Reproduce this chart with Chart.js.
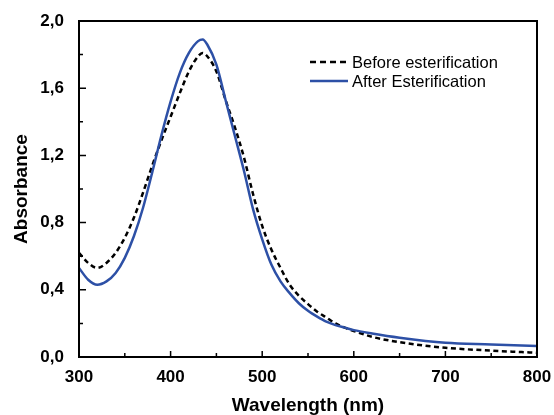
<!DOCTYPE html>
<html>
<head>
<meta charset="utf-8">
<script src="https://cdn.jsdelivr.net/npm/chart.js@4/dist/chart.umd.min.js"></script>
<style>
  body { margin: 0; background: #fff; }
</style>
</head>
<body>
<canvas id="uvChart" width="554" height="415"></canvas>
<script>
// wavelengths (nm)
const wavelengths = [300, 310, 320, 330, 340, 350, 360, 370, 380, 390, 400, 410, 420, 430, 435, 440, 450, 460, 470, 480, 490, 500, 510, 520, 530, 540, 550, 560, 570, 580, 590, 600, 620, 650, 700, 750, 800];

const beforeEster = [0.62, 0.56, 0.53, 0.56, 0.62, 0.71, 0.83, 0.98, 1.14, 1.29, 1.43, 1.57, 1.70, 1.79, 1.81, 1.79, 1.70, 1.53, 1.37, 1.19, 0.97, 0.78, 0.64, 0.53, 0.43, 0.365, 0.315, 0.27, 0.235, 0.20, 0.175, 0.155, 0.12, 0.088, 0.055, 0.038, 0.025];

const afterEster = [0.53, 0.46, 0.43, 0.45, 0.50, 0.59, 0.72, 0.89, 1.10, 1.32, 1.52, 1.69, 1.81, 1.88, 1.89, 1.86, 1.74, 1.53, 1.32, 1.11, 0.88, 0.70, 0.55, 0.45, 0.38, 0.32, 0.275, 0.24, 0.21, 0.19, 0.175, 0.16, 0.14, 0.115, 0.085, 0.075, 0.065];

const xTicks = [300, 400, 500, 600, 700, 800];
const yTicks = [0, 0.4, 0.8, 1.2, 1.6, 2.0];
const legendLabels = ['Before esterification', 'After Esterification'];

const blue = '#2d50a6';
const fontFamily = '"Liberation Sans", Arial, Helvetica, sans-serif';

function toPoints(ys) {
    return wavelengths.map((w, i) => ({ x: w, y: ys[i] }));
}

// frame, inward ticks and the legend inside the plot
const framePlugin = {
    id: 'frame',
    afterDatasetsDraw(chart) {
        const ctx = chart.ctx;
        const area = chart.chartArea;
        const xs = chart.scales.x;
        const ys = chart.scales.y;
        ctx.save();
        ctx.strokeStyle = '#000';
        ctx.lineWidth = 2;
        ctx.strokeRect(area.left, area.top, area.right - area.left, area.bottom - area.top);

        ctx.lineWidth = 1.5;
        ctx.beginPath();
        for (let v = 300; v <= 800; v += 50) {
            const px = xs.getPixelForValue(v);
            const len = (v % 100 === 0) ? 6 : 4;
            ctx.moveTo(px, area.bottom);
            ctx.lineTo(px, area.bottom - len);
        }
        for (let k = 0; k <= 10; k++) {
            const v = k * 0.2;
            const py = ys.getPixelForValue(v);
            const len = (k % 2 === 0) ? 7 : 4;
            ctx.moveTo(area.left, py);
            ctx.lineTo(area.left + len, py);
        }
        ctx.stroke();

        // legend
        const lx = 310, lw = 38;
        const rows = [62, 81];
        chart.data.datasets.slice().sort((a, b) => b.order - a.order).forEach((ds, i) => {
            ctx.beginPath();
            ctx.strokeStyle = ds.borderColor;
            ctx.lineWidth = 2.5;
            ctx.setLineDash(ds.borderDash ? [6, 4] : []);
            ctx.moveTo(lx, rows[i]);
            ctx.lineTo(lx + lw, rows[i]);
            ctx.stroke();
            ctx.setLineDash([]);
            ctx.fillStyle = '#000';
            ctx.font = '16.5px ' + fontFamily;
            ctx.textBaseline = 'middle';
            ctx.fillText(ds.label, lx + lw + 4, rows[i] + 1);
        });
        ctx.restore();
    }
};

new Chart(document.getElementById('uvChart').getContext('2d'), {
    type: 'line',
    data: {
        datasets: [{
            label: legendLabels[1],
            data: toPoints(afterEster),
            borderColor: blue,
            borderWidth: 2.5,
            pointRadius: 0,
            cubicInterpolationMode: 'monotone',
            order: 0
        }, {
            label: legendLabels[0],
            data: toPoints(beforeEster),
            borderColor: '#000',
            borderWidth: 2.5,
            borderDash: [5, 3.5],
            pointRadius: 0,
            cubicInterpolationMode: 'monotone',
            order: 1
        }]
    },
    options: {
        responsive: false,
        animation: false,
        layout: { padding: { top: 21, right: 17, left: 0, bottom: 0 } },
        plugins: {
            legend: { display: false },
            tooltip: { enabled: false }
        },
        scales: {
            x: {
                type: 'linear',
                min: 300,
                max: 800,
                afterFit(scale) { scale.height = 58; },
                afterBuildTicks(scale) { scale.ticks = xTicks.map(v => ({ value: v })); },
                grid: { display: false },
                border: { display: false },
                ticks: {
                    color: '#000',
                    padding: 2,
                    maxRotation: 0,
                    font: { family: fontFamily, size: 17, weight: 'bold' }
                },
                title: {
                    display: true,
                    text: 'Wavelength (nm)',
                    color: '#000',
                    padding: { top: 0, bottom: 0 },
                    font: { family: fontFamily, size: 19, weight: 'bold', lineHeight: 1 }
                }
            },
            y: {
                min: 0,
                max: 2,
                afterFit(scale) { scale.width = 79; },
                afterBuildTicks(scale) { scale.ticks = yTicks.map(v => ({ value: v })); },
                grid: { display: false },
                border: { display: false },
                ticks: {
                    color: '#000',
                    padding: 7,
                    callback: v => v.toFixed(1).replace('.', ','),
                    font: { family: fontFamily, size: 17, weight: 'bold' }
                },
                title: {
                    display: true,
                    text: 'Absorbance',
                    color: '#000',
                    padding: { top: 12, bottom: 0 },
                    font: { family: fontFamily, size: 19, weight: 'bold', lineHeight: 1 }
                }
            }
        }
    },
    plugins: [framePlugin]
});
</script>
</body>
</html>
